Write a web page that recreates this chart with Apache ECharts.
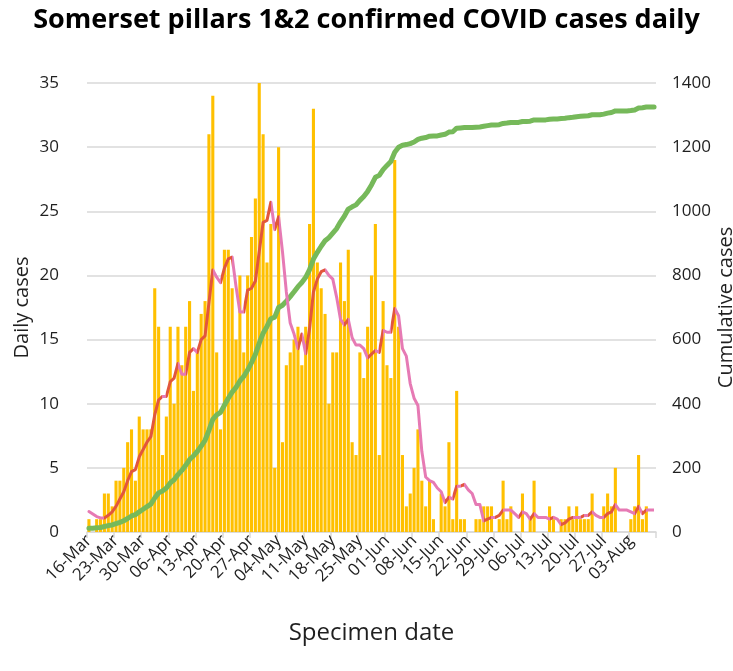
<!DOCTYPE html>
<html>
<head>
<meta charset="utf-8">
<script src="https://cdn.jsdelivr.net/npm/echarts@6/dist/echarts.min.js"></script>
<style>
html, body { margin: 0; padding: 0; background: #fff; }
#chart { width: 733px; height: 671px; }
</style>
</head>
<body>
<div id="chart"></div>
<script>
// one value per day, starting 16-Mar
var startDay = 16; // March
var dayCount = 147;
var monthNames = ['Jan','Feb','Mar','Apr','May','Jun','Jul','Aug','Sep','Oct','Nov','Dec'];

var dailyCases = [
  1,0,1,1,3,3,2,4,4,5,7,8,4,9,8,8,8,19,16,6,9,16,10,16,13,16,18,11,14,17,
  18,31,34,14,8,22,22,19,15,20,14,20,23,26,35,31,21,24,5,30,7,13,14,15,16,13,16,24,33,21,
  19,17,10,14,14,21,18,22,7,6,14,12,16,20,24,6,18,13,12,29,16,6,2,3,5,8,4,2,4,1,
  0,3,2,7,1,11,1,1,0,0,1,1,2,2,2,0,1,4,1,2,0,0,3,0,1,4,0,0,0,2,
  1,0,1,1,2,1,2,1,1,1,3,0,0,2,3,2,5,0,0,0,1,2,6,1,2,0,0
];

var cumulativeCases = [
  12,12,13,14,17,20,22,26,30,35,42,50,54,63,71,79,87,106,122,128,137,153,163,179,192,208,226,237,251,268,
  286,317,351,365,373,395,417,436,451,471,485,505,528,554,589,620,641,665,670,700,707,720,734,749,765,778,794,818,851,872,
  891,908,918,932,946,967,985,1007,1014,1020,1034,1046,1062,1082,1106,1112,1130,1143,1155,1184,1200,1206,1208,1211,1216,1224,1228,1230,1234,1235,
  1235,1238,1240,1247,1248,1259,1260,1261,1261,1261,1262,1263,1265,1267,1269,1269,1270,1274,1275,1277,1277,1277,1280,1280,1281,1285,1285,1285,1285,1287,
  1288,1288,1289,1290,1292,1293,1295,1296,1297,1298,1301,1301,1301,1303,1306,1308,1313,1313,1313,1313,1314,1316,1322,1323,1325,1325,1325
];

var sevenDayAvg = [
  1.6,1.4,1.2,1.1,1.1,1.3,1.57,2.0,2.57,3.14,4.0,4.71,4.86,5.86,6.43,7.0,7.43,9.14,10.29,10.57,10.57,11.71,12.0,13.14,12.29,12.29,14.0,14.29,14.0,15.0,
  15.29,17.86,20.43,19.86,19.43,20.57,21.29,21.43,19.14,17.14,17.14,18.86,19.0,19.57,21.86,24.14,24.29,25.71,23.57,24.57,21.86,18.71,16.29,15.43,14.29,15.43,13.9,15.86,18.71,19.71,
  20.29,20.43,20.0,19.71,18.29,16.57,16.14,16.57,15.14,14.57,14.57,14.29,13.57,13.86,14.14,14.0,15.71,15.57,15.57,17.43,16.86,14.29,13.71,11.57,10.43,9.86,6.29,4.29,4.0,3.86,
  3.43,3.14,2.29,2.71,2.57,3.57,3.57,3.71,3.29,3.0,2.14,2.14,0.86,1.0,1.14,1.14,1.29,1.71,1.71,1.71,1.43,1.14,1.57,1.43,1.0,1.43,1.14,1.14,1.14,1.0,
  1.14,1.0,0.57,0.71,1.0,1.14,1.14,1.14,1.29,1.29,1.57,1.29,1.14,1.14,1.43,1.57,2.14,1.71,1.71,1.71,1.57,1.43,2.0,1.43,1.71,1.71,1.71
];

var dates = [];
for (var i = 0; i < dayCount; i++) {
  var d = new Date(Date.UTC(2020, 2, startDay + i));
  dates.push(('0' + d.getUTCDate()).slice(-2) + '-' + monthNames[d.getUTCMonth()]);
}

var pink = '#E67AB4';
var red = '#E2563C';
// the average line turns red while it is going up
var pieces = [{ lte: 0, color: pink }];
for (var j = 1; j < sevenDayAvg.length; j++) {
  pieces.push({ gt: j - 1, lte: j, color: sevenDayAvg[j] > sevenDayAvg[j - 1] ? red : pink });
}

var font = 'Open Sans';
var textColor = '#1f1f1f';
var gridColor = '#D9D9D9';

var chart = echarts.init(document.getElementById('chart'));
chart.setOption({
  animation: false,
  textStyle: { fontFamily: font },
  title: {
    text: 'Somerset pillars 1&2 confirmed COVID cases daily',
    left: 'center',
    top: 2,
    textStyle: { fontFamily: font, fontSize: 27, fontWeight: 'bold', color: '#000' }
  },
  grid: { left: 87, right: 77, top: 83, bottom: 139, outerBoundsMode: 'none', containLabel: false },
  visualMap: {
    show: false,
    dimension: 0,
    seriesIndex: 2,
    pieces: pieces
  },
  xAxis: {
    type: 'category',
    data: dates,
    boundaryGap: true,
    axisLine: { lineStyle: { color: gridColor, width: 1.5 } },
    axisTick: { show: true, interval: 6, length: 6, lineStyle: { color: gridColor, width: 1.5 } },
    axisLabel: { interval: 6, rotate: 45, fontSize: 17, color: textColor, margin: 6 },
    name: 'Specimen date',
    nameLocation: 'middle',
    nameGap: 89,
    nameTextStyle: { fontSize: 24, color: textColor }
  },
  yAxis: [
    {
      type: 'value',
      min: 0, max: 35, interval: 5,
      axisLine: { show: false },
      axisTick: { show: false },
      splitLine: { lineStyle: { color: gridColor, width: 1.5 } },
      axisLabel: { fontSize: 17, color: textColor, margin: 28 },
      name: 'Daily cases',
      nameLocation: 'middle',
      nameRotate: 90,
      nameGap: 55,
      nameMoveOverlap: false,
      nameTextStyle: { fontSize: 20, color: textColor }
    },
    {
      type: 'value',
      min: 0, max: 1400, interval: 200,
      axisLine: { show: false },
      axisTick: { show: false },
      splitLine: { show: false },
      axisLabel: { fontSize: 17, color: textColor, margin: 16, formatter: function (v) { return String(v); } },
      name: 'Cumulative cases',
      nameLocation: 'middle',
      nameRotate: 90,
      nameGap: 60,
      nameMoveOverlap: false,
      nameTextStyle: { fontSize: 20, color: textColor }
    }
  ],
  series: [
    {
      name: 'Daily',
      type: 'bar',
      data: dailyCases,
      yAxisIndex: 0,
      barCategoryGap: '20%',
      itemStyle: { color: '#FFC000' }
    },
    {
      name: 'Cumulative',
      type: 'line',
      data: cumulativeCases,
      yAxisIndex: 1,
      showSymbol: false,
      z: 3,
      lineStyle: { color: '#76B95A', width: 5, cap: 'round', join: 'round' }
    },
    {
      name: '7-day average',
      type: 'line',
      data: sevenDayAvg,
      yAxisIndex: 0,
      showSymbol: false,
      z: 4,
      lineStyle: { width: 3, cap: 'round', join: 'round' }
    }
  ]
});
</script>
</body>
</html>
